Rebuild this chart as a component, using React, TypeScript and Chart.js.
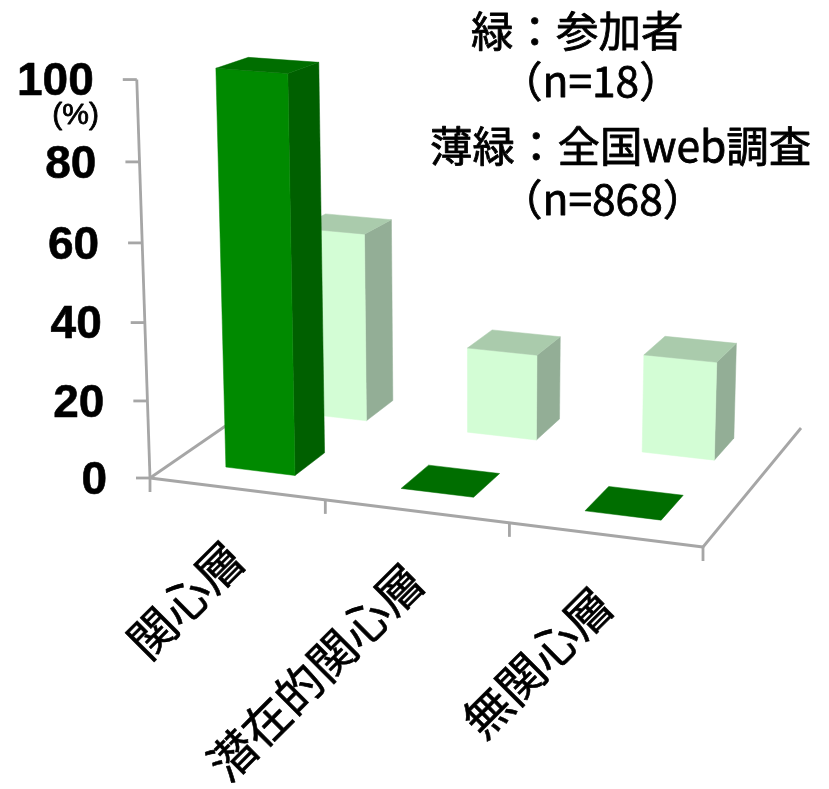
import React, { useEffect, useRef } from "react";
import { Chart, registerables } from "chart.js";

Chart.register(...registerables);

const categories = ["関心層", "潜在的関心層", "無関心層"];
const participants = [100, 0, 0];
const national = [51, 23, 26];
const yTicks = [0, 20, 40, 60, 80, 100];
const legendLines = [
  { text: "緑：参加者", x: 471, y: 31 },
  { text: "（n=18）", x: 500, y: 81 },
  { text: "薄緑：全国web調査", x: 430, y: 146 },
  { text: "（n=868）", x: 500, y: 199 },
];

const W = 829, H = 789;
const AREA = { left: 150, right: 703, top: 65, bottom: 478 };
// floor corners: front-left, front-right, back-right, back-left
const FLOOR = [[150, 478], [703, 547], [801, 428], [301, 374]];
const DEPTHS = [[0.65, 0.85], [0.15, 0.35]]; // per dataset: back series, front series
const BAR_LIFT = 1.015;
const FACE = [
  { front: "#d3fdd5", top: "#aacbac", side: "#93ae96" },
  { front: "#008a00", top: "#006e00", side: "#006000" },
];
const AXIS = "#a6a6a6";

function makeHomography() {
  const [[x0, y0], [x1, y1], [x2, y2], [x3, y3]] = FLOOR;
  const dx1 = x1 - x2, dx2 = x3 - x2, sx = x0 - x1 + x2 - x3;
  const dy1 = y1 - y2, dy2 = y3 - y2, sy = y0 - y1 + y2 - y3;
  const det = dx1 * dy2 - dx2 * dy1;
  const g = (sx * dy2 - dx2 * sy) / det;
  const h = (dx1 * sy - sx * dy1) / det;
  const a = x1 - x0 + g * x1, b = x3 - x0 + h * x3;
  const d = y1 - y0 + g * y1, e = y3 - y0 + h * y3;
  return (u: number, v: number) => {
    const q = g * u + h * v + 1;
    return [(a * u + b * v + x0) / q, (d * u + e * v + y0) / q];
  };
}
const floorAt = makeHomography();

// u: 0..1 along the front edge, v: 0..1 into the depth, lift: flat pixels above the floor
function project(u: number, v: number, lift: number): [number, number] {
  const [x, y] = floorAt(u, v);
  const s = 1 - 0.15 * v;
  const L = lift * s * (1 + (x - 470) * 1.1e-4);
  return [
    x + (x - 470) * 1e-4 * lift * s,
    y - (L + 1.04e-4 * L * (L - 399)),
  ];
}

function poly(ctx: CanvasRenderingContext2D, pts: [number, number][], color: string) {
  ctx.beginPath();
  pts.forEach((p, i) => (i ? ctx.lineTo(p[0], p[1]) : ctx.moveTo(p[0], p[1])));
  ctx.closePath();
  ctx.fillStyle = color;
  ctx.fill();
  ctx.strokeStyle = color;
  ctx.lineWidth = 0.5;
  ctx.stroke();
}

function line(ctx: CanvasRenderingContext2D, a: number[], b: number[]) {
  ctx.beginPath();
  ctx.moveTo(a[0], a[1]);
  ctx.lineTo(b[0], b[1]);
  ctx.stroke();
}

function boldText(ctx: CanvasRenderingContext2D, text: string, x: number, y: number, w: number) {
  ctx.lineWidth = w;
  ctx.strokeStyle = "#000";
  ctx.lineJoin = "round";
  ctx.strokeText(text, x, y);
  ctx.fillStyle = "#000";
  ctx.fillText(text, x, y);
}

const scene3d = {
  id: "scene3d",
  beforeDatasetsDraw(chart: any) {
    const ctx: CanvasRenderingContext2D = chart.ctx;
    const area = chart.chartArea;
    const flatW = area.right - area.left;
    const yScale = chart.scales.y;
    const xScale = chart.scales.x;
    const base = yScale.getPixelForValue(0);
    ctx.save();

    // axes
    ctx.strokeStyle = AXIS;
    ctx.lineWidth = 2.8;
    ctx.lineCap = "butt";
    line(ctx, project(0, 0, 0), project(1, 0, 0));
    line(ctx, project(0, 0, 0), project(0, 1, 0));
    line(ctx, project(1, 0, 0), project(1, 1, 0));
    const axisTop = project(0, 0, base - yScale.getPixelForValue(100));
    line(ctx, project(0, 0, 0), axisTop);

    // y ticks and labels
    ctx.textBaseline = "middle";
    ctx.textAlign = "right";
    yTicks.forEach((t) => {
      const p = project(0, 0, base - yScale.getPixelForValue(t));
      ctx.strokeStyle = AXIS;
      ctx.lineWidth = 2.8;
      line(ctx, p, [p[0] - 14, p[1]]);
      ctx.font = "bold 46px 'Liberation Sans'";
      boldText(ctx, String(t), p[0] - 43, p[1] + 3, 0.6);
    });
    ctx.font = "30px 'Liberation Sans'";
    boldText(ctx, "(%)", 99, 116, 0.8);

    // x ticks
    ctx.strokeStyle = AXIS;
    ctx.lineWidth = 2.8;
    for (let i = 0; i <= categories.length; i++) {
      const p = project(i / categories.length, 0, 0);
      line(ctx, p, [p[0], p[1] + 14]);
    }

    // bars: the back series first
    chart.data.datasets.forEach((_ds: any, di: number) => {
      const meta = chart.getDatasetMeta(di);
      const [v0, v1] = DEPTHS[di];
      const c = FACE[di];
      meta.data.forEach((el: any) => {
        const u0 = (el.x - el.width / 2 - area.left) / flatW;
        const u1 = (el.x + el.width / 2 - area.left) / flatW;
        const lift = (el.base - el.y) * BAR_LIFT;
        if (lift > 0) {
          poly(ctx, [project(u1, v0, 0), project(u1, v1, 0), project(u1, v1, lift), project(u1, v0, lift)], c.side);
          poly(ctx, [project(u0, v0, 0), project(u1, v0, 0), project(u1, v0, lift), project(u0, v0, lift)], c.front);
        }
        poly(ctx, [project(u0, v0, lift), project(u1, v0, lift), project(u1, v1, lift), project(u0, v1, lift)], c.top);
      });
    });

    // category labels
    ctx.font = "47px 'Noto Sans CJK JP'";
    ctx.textAlign = "right";
    ctx.textBaseline = "middle";
    categories.forEach((label, i) => {
      const u = (xScale.getPixelForValue(i) - area.left) / flatW;
      const p = project(u, 0, 0);
      ctx.save();
      ctx.translate(p[0] - 1, p[1] + 61);
      ctx.rotate(-Math.PI / 4);
      boldText(ctx, label, 0, 0, 0.6);
      ctx.restore();
    });

    // legend text
    ctx.font = "42.5px 'Noto Sans CJK JP'";
    ctx.textAlign = "left";
    legendLines.forEach((l) => boldText(ctx, l.text, l.x, l.y, 0.8));

    ctx.restore();
    return false;
  },
};

export default function App() {
  const ref = useRef<HTMLCanvasElement>(null);
  useEffect(() => {
    const chart = new Chart(ref.current!, {
      type: "bar",
      data: {
        labels: categories,
        datasets: [
          { label: "全国web調査", data: national, backgroundColor: FACE[0].front },
          { label: "参加者", data: participants, backgroundColor: FACE[1].front },
        ],
      },
      options: {
        responsive: false,
        animation: false,
        devicePixelRatio: 1,
        layout: {
          padding: {
            left: AREA.left,
            right: W - AREA.right,
            top: AREA.top,
            bottom: H - AREA.bottom,
          },
        },
        datasets: { bar: { grouped: false, barPercentage: 0.4, categoryPercentage: 1 } },
        plugins: { legend: { display: false }, tooltip: { enabled: false }, title: { display: false } },
        scales: {
          x: { type: "category", display: false, offset: true },
          y: { type: "linear", display: false, min: 0, max: 100, ticks: { stepSize: 20 } },
        },
      },
      plugins: [scene3d],
    } as any);
    return () => chart.destroy();
  }, []);
  return (
    <div style={{ position: "absolute", left: 0, top: 0, width: W, height: H, background: "#fff", overflow: "hidden" }}>
      <canvas ref={ref} width={W} height={H} style={{ display: "block" }} />
    </div>
  );
}
